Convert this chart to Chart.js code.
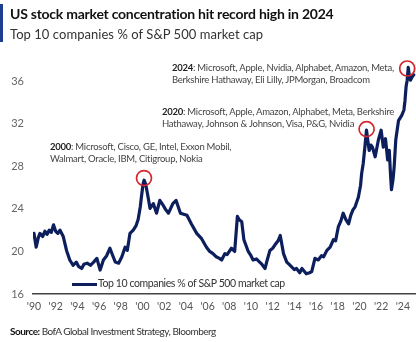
<!DOCTYPE html>
<html>
<head>
<meta charset="utf-8">
<script src="https://cdn.jsdelivr.net/npm/chart.js@4/dist/chart.umd.min.js"></script>
<style>
  body { margin: 0; background: #fff; font-family: Lato, 'Open Sans', sans-serif; }
  #wrap { position: relative; width: 416px; height: 342px; overflow: hidden; }
  #chart { position: absolute; left: 0; top: 0; }
  .bar { position: absolute; left: 0; top: 4px; width: 3px; height: 38px; background: #1d3d8f; }
  .title { position: absolute; left: 10px; top: 5px; font-size: 14px; font-weight: 700; color: #111; white-space: nowrap; letter-spacing: -0.25px; }
  .subtitle { position: absolute; left: 10px; top: 26px; font-size: 13px; color: #333; white-space: nowrap; letter-spacing: 0.05px; }
  .note { position: absolute; font-size: 9.5px; line-height: 11.5px; color: #444; white-space: nowrap; letter-spacing: -0.25px; }
  .note b { color: #222; }
  .legend { position: absolute; left: 72px; top: 277px; font-size: 10.5px; color: #333; white-space: nowrap; letter-spacing: -0.4px; }
  .legend i { display: inline-block; width: 25px; height: 3px; background: #0c1f5c; vertical-align: middle; margin-right: 1px; }
  .source { position: absolute; left: 10px; top: 325px; font-size: 10px; color: #333; white-space: nowrap; letter-spacing: -0.5px; }
  .source b { color: #111; }
</style>
</head>
<body>
<div id="wrap">
  <canvas id="chart" width="416" height="342"></canvas>
  <div class="bar"></div>
  <div class="title">US stock market concentration hit record high in 2024</div>
  <div class="subtitle">Top 10 companies % of S&amp;P 500 market cap</div>
  <div class="note" style="left:172px; top:62px;"><b>2024</b>: Microsoft, Apple, Nvidia, Alphabet, Amazon, Meta,<br>Berkshire Hathaway, Eli Lilly, JPMorgan, Broadcom</div>
  <div class="note" style="left:162px; top:106px;"><b>2020</b>: Microsoft, Apple, Amazon, Alphabet, Meta, Berkshire<br>Hathaway, Johnson &amp; Johnson, Visa, P&amp;G, Nvidia</div>
  <div class="note" style="left:50px; top:141px;"><b>2000</b>: Microsoft, Cisco, GE, Intel, Exxon Mobil,<br>Walmart, Oracle, IBM, Citigroup, Nokia</div>
  <div class="legend"><i></i>Top 10 companies % of S&amp;P 500 market cap</div>
  <div class="source"><b>Source:</b> BofA Global Investment Strategy, Bloomberg</div>
</div>
<script>
// values (year as decimal, % of S&P 500 market cap)
const years = [
  1990.0, 1990.2, 1990.4, 1990.55, 1990.8, 1991.0, 1991.2, 1991.4, 1991.6, 1991.8,
  1992.0, 1992.2, 1992.4, 1992.7, 1993.0, 1993.3, 1993.6, 1993.9, 1994.1, 1994.4,
  1994.6, 1994.9, 1995.2, 1995.5, 1995.8, 1996.0, 1996.1, 1996.4, 1996.7, 1997.0,
  1997.3, 1997.5, 1997.8, 1998.1, 1998.4, 1998.6, 1998.85, 1999.15, 1999.4, 1999.6,
  1999.8, 1999.9, 2000.05, 2000.15, 2000.3, 2000.45, 2000.7, 2001.0, 2001.3, 2001.6,
  2001.9, 2002.1, 2002.4, 2002.8, 2003.1, 2003.5, 2004.1, 2004.5, 2005.0, 2005.45,
  2005.9, 2006.2, 2006.5, 2006.8, 2007.1, 2007.3, 2007.6, 2007.8, 2008.2, 2008.5,
  2008.75, 2008.9, 2009.15, 2009.35, 2009.75, 2010.0, 2010.2, 2010.5, 2010.8, 2011.0,
  2011.3, 2011.5, 2011.75, 2012.0, 2012.2, 2012.5, 2012.7, 2013.0, 2013.3, 2013.5,
  2013.75, 2014.0, 2014.2, 2014.5, 2014.7, 2015.1, 2015.4, 2015.6, 2015.9, 2016.2,
  2016.5, 2016.7, 2017.0, 2017.3, 2017.6, 2017.8, 2018.05, 2018.3, 2018.5, 2018.75,
  2019.0, 2019.2, 2019.4, 2019.6, 2019.9, 2020.1, 2020.2, 2020.35, 2020.5, 2020.65,
  2020.8, 2020.9, 2021.05, 2021.2, 2021.45, 2021.6, 2021.75, 2022.0, 2022.1, 2022.2,
  2022.4, 2022.6, 2022.75, 2022.85, 2022.95, 2023.1, 2023.2, 2023.35, 2023.6, 2023.9,
  2024.1, 2024.2, 2024.3, 2024.4, 2024.5, 2024.6, 2024.7, 2024.85, 2025.0
];
const top10Share = [
  21.7, 20.4, 21.3, 21.7, 21.4, 21.9, 21.6, 22.0, 21.8, 22.5,
  21.9, 21.7, 22.0, 21.4, 20.1, 19.2, 18.7, 19.0, 18.6, 18.4,
  18.8, 18.9, 18.7, 19.0, 19.35, 18.6, 18.25, 19.2, 19.6, 20.3,
  19.5, 19.0, 18.9, 19.5, 20.4, 20.1, 21.7, 22.0, 22.4, 23.0,
  24.2, 25.1, 26.3, 26.7, 26.3, 25.5, 24.05, 24.5, 23.6, 24.8,
  24.35, 24.0, 23.6, 24.5, 24.8, 23.6, 23.4, 22.6, 21.7, 21.2,
  20.4, 20.0, 19.8, 19.5, 19.35, 19.2, 19.8, 19.7, 20.3, 20.0,
  23.3, 23.0, 22.8, 21.1, 20.0, 19.6, 19.2, 19.3, 19.0, 18.8,
  18.4, 19.2, 20.1, 20.3, 20.6, 21.0, 21.5, 19.8, 19.0, 18.8,
  18.55, 18.3, 18.4, 18.0, 18.4, 17.9, 18.0, 18.1, 19.35, 19.2,
  19.6, 19.5, 20.1, 20.4, 21.1, 21.0, 22.3, 22.9, 23.6, 23.0,
  22.6, 23.4, 23.9, 24.2, 25.1, 26.2, 27.3, 28.3, 29.8, 31.4,
  30.2, 29.5, 30.0, 29.8, 28.9, 29.7, 30.5, 31.4, 30.6, 29.8,
  30.6, 28.6, 29.5, 27.5, 25.8, 26.8, 27.95, 30.5, 32.3, 32.8,
  33.3, 34.2, 35.5, 36.1, 37.3, 36.5, 36.1, 36.4, 36.6
];
// circled peaks
const peakYears = [2000.14, 2020.66, 2024.4];
const peakValues = [26.9, 31.5, 37.2];

const xTickYears = [1990, 1992, 1994, 1996, 1998, 2000, 2002, 2004, 2006, 2008,
  2010, 2012, 2014, 2016, 2018, 2020, 2022, 2024];
const yTickValues = [16, 20, 24, 28, 32, 36];

const circlePlugin = {
    id: 'peakCircles',
    afterDatasetsDraw(chart) {
        const { ctx, scales } = chart;
        ctx.save();
        ctx.strokeStyle = '#d4262e';
        ctx.lineWidth = 1.7;
        peakYears.forEach((yr, i) => {
            const px = scales.x.getPixelForValue(yr);
            const py = scales.y.getPixelForValue(peakValues[i]);
            ctx.beginPath();
            ctx.arc(px, py, 7.5, 0, Math.PI * 2);
            ctx.stroke();
        });
        ctx.restore();
    },
};

new Chart(document.getElementById('chart'), {
    type: 'line',
    data: {
        datasets: [
            {
                label: 'Top 10 companies % of S&P 500 market cap',
                data: years.map((yr, i) => ({ x: yr, y: top10Share[i] })),
                borderColor: '#0c1f5c',
                borderWidth: 3.2,
                borderJoinStyle: 'round',
                borderCapStyle: 'round',
                pointRadius: 0,
                tension: 0,
            },
        ],
    },
    options: {
        responsive: false,
        animation: false,
        devicePixelRatio: 1,
        layout: { padding: { top: 60, left: 0, right: 0, bottom: 0 } },
        plugins: { legend: { display: false }, tooltip: { enabled: false } },
        scales: {
            x: {
                type: 'linear',
                min: 1989.91,
                max: 2025.21,
                afterBuildTicks: (s) => { s.ticks = xTickYears.map((v) => ({ value: v })); },
                afterFit: (s) => { s.height = 48; },
                ticks: {
                    callback: (v) => "'" + String(v).slice(2),
                    font: { family: 'Lato', size: 10.5 },
                    color: '#555',
                    padding: 6,
                    maxRotation: 0,
                    autoSkip: false,
                },
                grid: { display: false, drawTicks: false, tickLength: 0 },
                border: { display: true, color: '#444', width: 1.5 },
            },
            y: {
                min: 16,
                max: 38,
                afterBuildTicks: (s) => { s.ticks = yTickValues.map((v) => ({ value: v })); },
                afterFit: (s) => { s.width = 33; },
                ticks: {
                    font: { family: 'Lato', size: 11 },
                    color: '#666',
                    padding: 9,
                },
                grid: { display: false, drawTicks: false, tickLength: 0 },
                border: { display: false },
            },
        },
    },
    plugins: [circlePlugin],
});
</script>
</body>
</html>
